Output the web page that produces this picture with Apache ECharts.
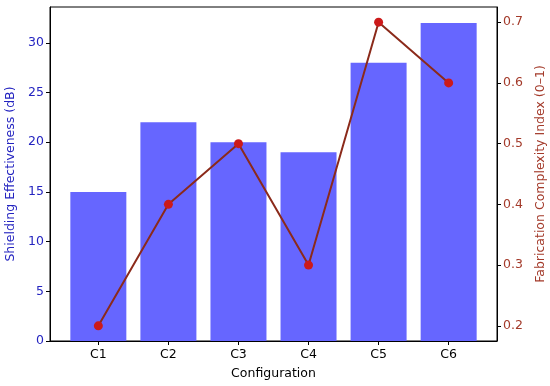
<!DOCTYPE html>
<html>
<head>
<meta charset="utf-8">
<script src="https://cdn.jsdelivr.net/npm/echarts@6/dist/echarts.min.js"></script>
<style>html,body{margin:0;padding:0;background:#fff}#c{width:550px;height:386px}</style>
</head>
<body>
<div id="c"></div>
<script>
const categories = ['C1', 'C2', 'C3', 'C4', 'C5', 'C6'];
const shielding = [15, 22, 20, 19, 28, 32];
const complexity = [0.2, 0.4, 0.5, 0.3, 0.7, 0.6];
const leftTicks = [0, 5, 10, 15, 20, 25, 30];
const rightTicks = [0.2, 0.3, 0.4, 0.5, 0.6, 0.7];

const font = 'DejaVu Sans';
const fs = 12.5;
const blue = '#2424c0';
const brown = '#a33a2a';
const idx = categories.map((c, i) => i);

const chart = echarts.init(document.getElementById('c'), null, {renderer: 'canvas'});
chart.setOption({
  animation: false,
  backgroundColor: '#fff',
  grid: {left: 50, right: 53, top: 7, bottom: 45, outerBoundsMode: 'none', containLabel: false,
    show: true, borderColor: '#000', borderWidth: 1, backgroundColor: 'transparent'},
  xAxis: {
    type: 'value', min: -0.69, max: 5.69,
    name: 'Configuration', nameLocation: 'middle', nameGap: 26,
    nameTextStyle: {fontFamily: font, fontSize: fs, color: '#000'},
    axisLine: {show: true, onZero: false, lineStyle: {color: '#000', width: 1}},
    axisTick: {show: true, length: 4, customValues: idx, lineStyle: {color: '#000'}},
    axisLabel: {customValues: idx, fontFamily: font, fontSize: fs, color: '#000', margin: 7,
      formatter: v => categories[Math.round(v)]},
    splitLine: {show: false}
  },
  yAxis: [
    {
      type: 'value', min: 0, max: 33.6, position: 'left',
      name: 'Shielding Effectiveness (dB)', nameLocation: 'middle', nameGap: 31,
      nameTextStyle: {fontFamily: font, fontSize: fs, color: blue},
      axisLine: {show: true, onZero: false, lineStyle: {color: '#000'}},
      axisTick: {show: true, length: 4, customValues: leftTicks, lineStyle: {color: '#000'}},
      axisLabel: {customValues: leftTicks, fontFamily: font, fontSize: fs, color: blue, margin: 6},
      splitLine: {show: false}
    },
    {
      type: 'value', min: 0.175, max: 0.725, position: 'right',
      name: 'Fabrication Complexity Index (0–1)', nameLocation: 'middle', nameGap: 34, nameRotate: 90,
      nameTextStyle: {fontFamily: font, fontSize: fs, color: brown},
      axisLine: {show: true, onZero: false, lineStyle: {color: '#000'}},
      axisTick: {show: true, length: 4, customValues: rightTicks, lineStyle: {color: '#000'}},
      axisLabel: {customValues: rightTicks, fontFamily: font, fontSize: fs, color: brown, margin: 6,
        formatter: v => v.toFixed(1)},
      splitLine: {show: false}
    }
  ],
  series: [
    {
      type: 'bar', yAxisIndex: 0, barWidth: 56,
      data: shielding.map((v, i) => [i, v]),
      itemStyle: {color: '#6666ff'}
    },
    {
      type: 'line', yAxisIndex: 1,
      data: complexity.map((v, i) => [i, v]),
      lineStyle: {color: '#8b2a1a', width: 2},
      symbol: 'circle', symbolSize: 9,
      itemStyle: {color: '#cc1a1a', borderWidth: 0},
      z: 5
    }
  ]
});
</script>
</body>
</html>
